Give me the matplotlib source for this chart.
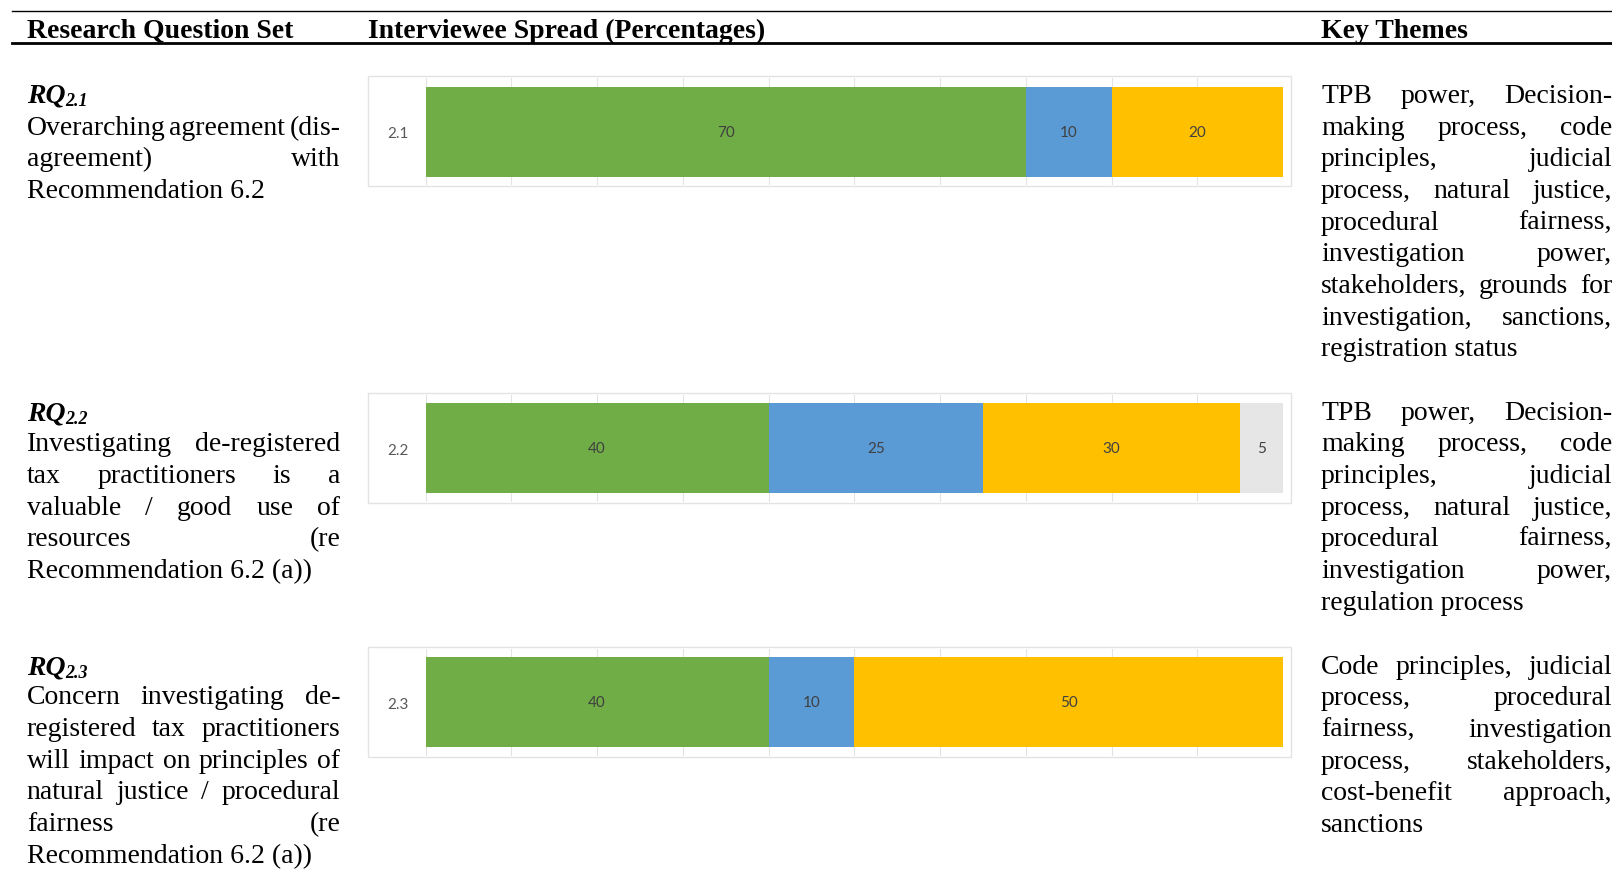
import matplotlib.pyplot as plt
from matplotlib.patches import Rectangle
from matplotlib.lines import Line2D

headers = ['Research Question Set', 'Interviewee Spread (Percentages)', 'Key Themes']
rq_ids = ['2.1', '2.2', '2.3']

# stacked segments per question (percent of interviewees)
seg_colors = ['#70AD47', '#5B9BD5', '#FFC000', '#E7E6E6']
values = [
    [70, 10, 20, 0],
    [40, 25, 30, 5],
    [40, 10, 50, 0],
]

questions = [
    ['Overarching agreement (dis-', 'agreement) with', 'Recommendation 6.2'],
    ['Investigating de-registered', 'tax practitioners is a', 'valuable / good use of',
     'resources (re', 'Recommendation 6.2 (a))'],
    ['Concern investigating de-', 'registered tax practitioners', 'will impact on principles of',
     'natural justice / procedural', 'fairness (re', 'Recommendation 6.2 (a))'],
]

themes = [
    ['TPB power, Decision-', 'making process, code', 'principles, judicial',
     'process, natural justice,', 'procedural fairness,', 'investigation power,',
     'stakeholders, grounds for', 'investigation, sanctions,', 'registration status'],
    ['TPB power, Decision-', 'making process, code', 'principles, judicial',
     'process, natural justice,', 'procedural fairness,', 'investigation power,',
     'regulation process'],
    ['Code principles, judicial', 'process, procedural', 'fairness, investigation',
     'process, stakeholders,', 'cost-benefit approach,', 'sanctions'],
]

fig = plt.figure(figsize=(16.12, 8.70), dpi=100)
renderer = fig.canvas.get_renderer()

# layout grid measured on a 1568 x 846 copy of the page
W, H = 1568, 846
S = 1612 / W
FS = 20
SERIF = 'Liberation Serif'
PITCH = 30.8


def fx(x):
    return x / W


def fy(y):
    return 1 - y / H


def put(x, y, s, **kw):
    return fig.text(fx(x), fy(y), s, va='baseline', ha='left', family=SERIF,
                    fontsize=kw.pop('fontsize', FS), **kw)


def width(t):
    return t.get_window_extent(renderer).width / S


def paragraph(lines, x0, x1, y0):
    # justified block, last line left aligned
    for i, line in enumerate(lines):
        y = y0 + i * PITCH
        if i == len(lines) - 1:
            put(x0, y, line)
            continue
        words = line.split(' ')
        texts = [put(0, y, w) for w in words]
        ws = [width(t) for t in texts]
        gap = (x1 - x0 - sum(ws)) / max(len(words) - 1, 1)
        x = x0
        for t, w in zip(texts, ws):
            t.set_x(fx(x))
            x += w + gap


# header rules
fig.add_artist(Line2D([fx(12), 1], [fy(12), fy(12)], color='black', lw=1.0))
fig.add_artist(Line2D([fx(12), 1], [fy(43), fy(43)], color='black', lw=2.0))
for x, h in zip([26, 358, 1285], headers):
    put(x, 37, h, fontweight='bold')

rq_base = [100, 409, 656]
body_base = [131, 439, 685]
theme_base = [100, 408, 655]
box_top = [75, 383, 630]

for i in range(3):
    t = put(26, rq_base[i], 'RQ', fontweight='bold', fontstyle='italic')
    put(26 + width(t), rq_base[i] + 3, rq_ids[i], fontweight='bold',
        fontstyle='italic', fontsize=13)
    paragraph(questions[i], 26, 331, body_base[i])
    paragraph(themes[i], 1285, 1568, theme_base[i])

    # chart frame
    bt = box_top[i]
    fig.add_artist(Rectangle((fx(358), fy(bt + 107)), (1256 - 358) / W, 107 / H,
                             transform=fig.transFigure, facecolor='white',
                             edgecolor='#E3E3E3', lw=1.0, zorder=0))
    ax = fig.add_axes([fx(414), fy(bt + 106), (1248 - 414) / W, 104 / H])
    left = 0
    for v, c in zip(values[i], seg_colors):
        if v == 0:
            continue
        b = ax.barh([0], [v], left=left, height=0.84, color=c, zorder=2)
        ax.bar_label(b, labels=[str(v)], label_type='center', color='#404040',
                     fontsize=11, family='Lato')
        left += v
    ax.set_xlim(0, 100)
    ax.set_ylim(-0.5, 0.5)
    ax.set_xticks(range(0, 101, 10))
    ax.set_yticks([0], [rq_ids[i]])
    ax.grid(axis='x', color='#E3E3E3', lw=0.8, zorder=0)
    ax.tick_params(axis='both', length=0)
    ax.tick_params(axis='y', labelsize=11, labelcolor='#595959', pad=12)
    for lab in ax.get_yticklabels():
        lab.set_family('Lato')
    ax.set_xticklabels([])
    for s in ax.spines.values():
        s.set_visible(False)
    ax.patch.set_alpha(0)

fig.savefig('out.png', dpi=100)
